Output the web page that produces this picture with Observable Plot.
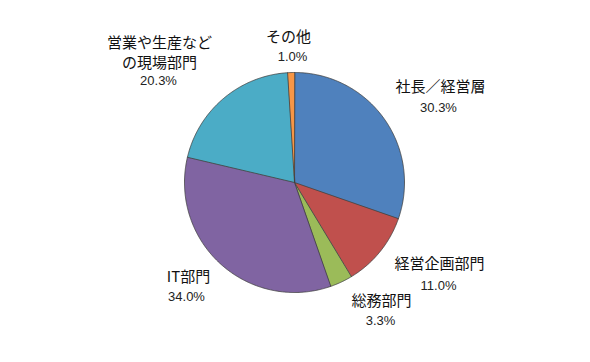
<!DOCTYPE html>
<html>
<head>
<meta charset="utf-8">
<script src="https://cdn.jsdelivr.net/npm/d3@7"></script>
<script src="https://cdn.jsdelivr.net/npm/@observablehq/plot@0.6"></script>
<style>
  html, body { margin: 0; padding: 0; background: #fff; }
  #chart { width: 590px; height: 362px; }
</style>
</head>
<body>
<div id="chart"></div>
<script>
// ---- data ----
const categories = ["社長／経営層", "経営企画部門", "総務部門", "IT部門", "営業や生産など\nの現場部門", "その他"];
const shares = [30.3, 11.0, 3.3, 34.0, 20.3, 1.0];
const pctLabels = ["30.3%", "11.0%", "3.3%", "34.0%", "20.3%", "1.0%"];

// ---- layout ----
const W = 590, H = 362;
const cx = 294, cy = 182, R = 110;
const palette = ["#4f81bd", "#c0504d", "#9bbb59", "#8064a2", "#4bacc6", "#f79646"];
// label anchor points (pixels) for name and percentage
const namePos = [[440, 85], [439, 262], [381, 299], [188, 275], [159, 51], [288, 35]];
const pctPos  = [[438, 107], [438, 285], [380, 320], [186, 296], [158, 80], [292, 56]];

// build slice polygons in unit-circle space (clockwise from 12 o'clock)
const total = d3.sum(shares);
const pts = [];
let acc = 0;
categories.forEach((c, i) => {
  const a0 = acc / total * 2 * Math.PI;
  acc += shares[i];
  const a1 = acc / total * 2 * Math.PI;
  pts.push({cat: c, x: 0, y: 0});
  const n = Math.max(2, Math.ceil((a1 - a0) / (Math.PI / 360)));
  for (let k = 0; k <= n; k++) {
    const a = a0 + (a1 - a0) * k / n;
    pts.push({cat: c, x: Math.sin(a), y: -Math.cos(a)});
  }
});

const toX = px => (px - cx) / R;
const toY = py => (py - cy) / R;
const names = categories.map((c, i) => ({cat: c, x: toX(namePos[i][0]), y: toY(namePos[i][1])}));
const pcts = pctLabels.map((p, i) => ({t: p, x: toX(pctPos[i][0]), y: toY(pctPos[i][1])}));

const chart = Plot.plot({
  width: W, height: H,
  margin: 0,
  style: {background: "#fff"},
  x: {domain: [toX(0), toX(W)], range: [0, W], axis: null},
  y: {domain: [toY(0), toY(H)], range: [0, H], axis: null},
  color: {domain: categories, range: palette},
  marks: [
    Plot.line(pts, {x: "x", y: "y", z: "cat", fill: "cat", stroke: "#404040", strokeWidth: 0.8, curve: "linear-closed"}),
    Plot.text(names, {x: "x", y: "y", text: "cat", fontSize: 15, lineHeight: 1.33, fill: "#111",
      fontFamily: "'Noto Sans CJK JP', sans-serif"}),
    Plot.text(pcts, {x: "x", y: "y", text: "t", fontSize: 13, fill: "#222",
      fontFamily: "'Liberation Sans', Arial, sans-serif"})
  ]
});
document.getElementById("chart").appendChild(chart);
</script>
</body>
</html>
